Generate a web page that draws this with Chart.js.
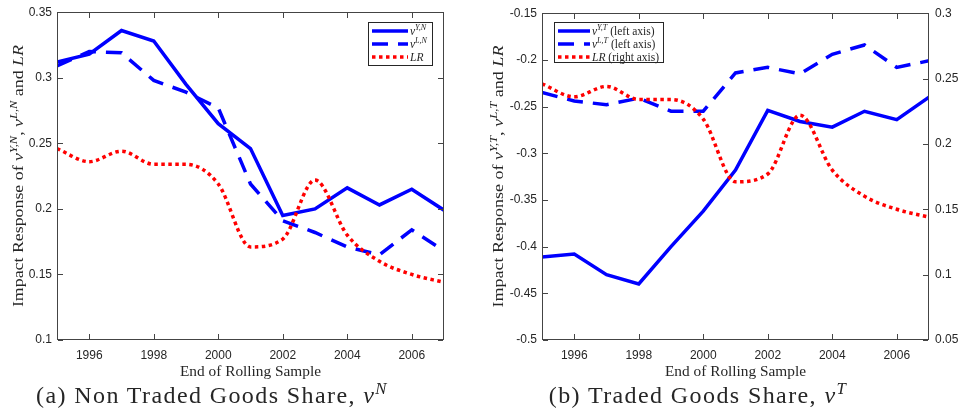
<!DOCTYPE html>
<html>
<head>
<meta charset="utf-8">
<script src="https://cdn.jsdelivr.net/npm/chart.js@4.4.1/dist/chart.umd.min.js"></script>
<style>
    body { margin: 0; background: #fff; width: 959px; height: 419px; overflow: hidden; position: relative; }
    .panel { position: absolute; top: 0; height: 380px; }
    #pa { left: 0; width: 480px; }
    #pb { left: 480px; width: 479px; }
    .cap { position: absolute; top: 382px; font-family: 'Liberation Serif', serif; font-size: 24px; color: #262626;
           letter-spacing: 1.4px; white-space: nowrap; transform: translateX(-50%); }
    .cap sup { font-size: 70%; line-height: 0; }
</style>
</head>
<body>
<div class="panel" id="pa"><canvas id="chartA"></canvas></div>
<div class="panel" id="pb"><canvas id="chartB"></canvas></div>
<div class="cap" style="left:212px">(a) Non Traded Goods Share, <i>ν</i><sup><i>N</i></sup></div>
<div class="cap" style="left:698px">(b) Traded Goods Share, <i>ν</i><sup><i>T</i></sup></div>
<script>
// 数据（滚动样本结束年份）
const years = [1995, 1996, 1997, 1998, 1999, 2000, 2001, 2002, 2003, 2004, 2005, 2006, 2007];
const xTicks = [1996, 1998, 2000, 2002, 2004, 2006];

// (a) 非贸易品
const nuYN = [0.312, 0.318, 0.336, 0.328, 0.295, 0.265, 0.246, 0.195, 0.200, 0.216, 0.203, 0.215, 0.199];
const nuLN = [0.309, 0.320, 0.319, 0.298, 0.289, 0.277, 0.219, 0.191, 0.182, 0.171, 0.165, 0.184, 0.168];
const lr   = [0.246, 0.236, 0.244, 0.234, 0.234, 0.219, 0.171, 0.177, 0.222, 0.180, 0.160, 0.150, 0.144];

// (b) 贸易品
const nuYT = [-0.411, -0.408, -0.430, -0.440, -0.400, -0.362, -0.318, -0.254, -0.266, -0.272, -0.255, -0.264, -0.240];
const nuLT = [-0.235, -0.244, -0.248, -0.241, -0.255, -0.255, -0.214, -0.208, -0.215, -0.194, -0.184, -0.208, -0.201];

const AXIS = '#262626';
const FRAME = '#444444';
const SERIF = "'Liberation Serif', serif";
const SANS = "'Liberation Sans', Arial, sans-serif";

const styles = {
    solid:  { borderColor: '#0000ff', borderWidth: 3.5, borderDash: [] },
    dashed: { borderColor: '#0000ff', borderWidth: 3.5, borderDash: [16, 10] },
    dotted: { borderColor: '#ff0000', borderWidth: 3.5, borderDash: [3.5, 3.5] }
};

function pts(vals) {
    return years.map((y, i) => ({ x: y, y: vals[i] }));
}

function fmt(v) {
    return String(Number(v.toFixed(2)));
}

// 富文本：[文字, 类型] n=正体, i=斜体, s=上标
function setFont(ctx, size, italic) {
    ctx.font = (italic ? 'italic ' : '') + size + 'px ' + SERIF;
}
function richWidth(ctx, parts, size) {
    let w = 0;
    for (const [t, k] of parts) {
        setFont(ctx, k === 's' ? size * 0.7 : size, k !== 'n');
        w += ctx.measureText(t).width;
    }
    return w;
}
function drawRich(ctx, parts, x, y, size) {
    for (const [t, k] of parts) {
        setFont(ctx, k === 's' ? size * 0.7 : size, k !== 'n');
        ctx.fillText(t, x, k === 's' ? y - size * 0.4 : y);
        x += ctx.measureText(t).width;
    }
}
// 居中绘制并横向拉伸到目标宽度（模拟原图较宽的字体）
function drawRichCentered(ctx, parts, cx, y, size, target) {
    const w = richWidth(ctx, parts, size);
    const k = target ? target / w : 1;
    ctx.save();
    ctx.translate(cx, y);
    ctx.scale(k, 1);
    drawRich(ctx, parts, -w / 2, 0, size);
    ctx.restore();
}

// 边框、内向刻度、坐标轴标题、图例
const decor = {
    id: 'decor',
    afterDraw(chart, args, opts) {
        const { ctx, chartArea: a, scales } = chart;
        ctx.save();
        ctx.setLineDash([]);
        ctx.fillStyle = FRAME;
        const L = Math.round(a.left), R = Math.round(a.right) - 1;
        const T = Math.round(a.top), B = Math.round(a.bottom) - 1;
        ctx.fillRect(L, T, R - L + 1, 1);
        ctx.fillRect(L, B, R - L + 1, 1);
        ctx.fillRect(L, T, 1, B - T + 1);
        ctx.fillRect(R, T, 1, B - T + 1);
        const tl = 5;
        scales.x.ticks.forEach(t => {
            const px = Math.round(scales.x.getPixelForValue(t.value));
            ctx.fillRect(px, B - tl, 1, tl);
            ctx.fillRect(px, T + 1, 1, tl);
        });
        scales.y.ticks.forEach(t => {
            const py = Math.round(scales.y.getPixelForValue(t.value));
            ctx.fillRect(L + 1, py, tl, 1);
            if (!scales.y2) ctx.fillRect(R - tl, py, tl, 1);
        });
        if (scales.y2) {
            scales.y2.ticks.forEach(t => {
                const py = Math.round(scales.y2.getPixelForValue(t.value));
                ctx.fillRect(R - tl, py, tl, 1);
            });
        }

        ctx.fillStyle = AXIS;
        // x 轴标题
        drawRichCentered(ctx, opts.xTitle, (a.left + a.right) / 2, opts.xTitleY, 15, 141);

        // y 轴标题
        ctx.save();
        ctx.translate(opts.yTitleX, (a.top + a.bottom) / 2);
        ctx.rotate(-Math.PI / 2);
        drawRichCentered(ctx, opts.yTitle, 0, 0, 15.5, 262);
        ctx.restore();

        // 图例
        const lg = opts.legend;
        ctx.fillStyle = '#fff';
        ctx.fillRect(lg.x, lg.y, lg.w, lg.h);
        ctx.fillStyle = AXIS;
        ctx.fillRect(lg.x, lg.y, lg.w, 1);
        ctx.fillRect(lg.x, lg.y + lg.h - 1, lg.w, 1);
        ctx.fillRect(lg.x, lg.y, 1, lg.h);
        ctx.fillRect(lg.x + lg.w - 1, lg.y, 1, lg.h);
        lg.rows.forEach((row, i) => {
            const cy = lg.y + 9 + i * 13;
            const st = styles[row.style];
            ctx.strokeStyle = st.borderColor;
            ctx.lineWidth = st.borderWidth;
            ctx.lineCap = 'butt';
            ctx.setLineDash(st.borderDash);
            ctx.beginPath();
            ctx.moveTo(lg.x + 4, cy);
            ctx.lineTo(lg.x + 4 + lg.sample, cy);
            ctx.stroke();
            ctx.setLineDash([]);
            ctx.fillStyle = AXIS;
            drawRich(ctx, row.parts, lg.x + 6 + lg.sample, cy + 4, 11.5);
        });
        ctx.restore();
    }
};

const noGrid = { display: false, drawTicks: false };

function baseOptions(yMin, yMax, padRight) {
    return {
        responsive: true,
        maintainAspectRatio: false,
        animation: false,
        layout: { padding: { left: 0, right: padRight, top: 12, bottom: 0 } },
        plugins: { legend: { display: false }, tooltip: { enabled: false } },
        elements: { point: { radius: 0 }, line: { borderCapStyle: 'butt', borderJoinStyle: 'miter' } },
        scales: {
            x: {
                type: 'linear', min: 1995, max: 2007,
                afterBuildTicks: s => { s.ticks = xTicks.map(v => ({ value: v })); },
                afterFit: s => { s.height = 40; },
                grid: noGrid,
                border: { display: false },
                ticks: { color: AXIS, font: { family: SANS, size: 12 }, padding: 8, maxRotation: 0,
                         callback: v => String(v) }
            },
            y: {
                min: yMin, max: yMax,
                ticks: { stepSize: 0.05, color: AXIS, font: { family: SANS, size: 12 }, padding: 5, callback: fmt },
                grid: noGrid,
                border: { display: false }
            }
        }
    };
}

// (a)
const optA = baseOptions(0.1, 0.35, 36);
optA.scales.y.afterFit = s => { s.width = 57; };
optA.plugins.decor = {
    xTitle: [['End of Rolling Sample', 'n']],
    xTitleY: 376,
    yTitleX: 23,
    yTitle: [['Impact Response of ', 'n'], ['ν', 'i'], ['Y,N', 's'], [', ', 'n'], ['ν', 'i'], ['L,N', 's'],
             [' and ', 'n'], ['LR', 'i']],
    legend: {
        x: 368, y: 22, w: 65, h: 44, sample: 36,
        rows: [
            { style: 'solid', parts: [['ν', 'i'], ['Y,N', 's']] },
            { style: 'dashed', parts: [['ν', 'i'], ['L,N', 's']] },
            { style: 'dotted', parts: [['LR', 'i']] }
        ]
    }
};

new Chart(document.getElementById('chartA'), {
    type: 'line',
    data: {
        datasets: [
            { data: pts(nuYN), ...styles.solid, order: 3 },
            { data: pts(nuLN), ...styles.dashed, order: 2 },
            { data: pts(lr), ...styles.dotted, cubicInterpolationMode: 'monotone', order: 1 }
        ]
    },
    options: optA,
    plugins: [decor]
});

// (b)
const optB = baseOptions(-0.5, -0.15, 0);
optB.scales.y.afterFit = s => { s.width = 62; };
optB.scales.y2 = {
    position: 'right', min: 0.05, max: 0.3,
    afterFit: s => { s.width = 30; },
    ticks: { stepSize: 0.05, color: AXIS, font: { family: SANS, size: 12 }, padding: 6, callback: fmt },
    grid: noGrid,
    border: { display: false }
};
optB.plugins.decor = {
    xTitle: [['End of Rolling Sample', 'n']],
    xTitleY: 376,
    yTitleX: 23,
    yTitle: [['Impact Response of ', 'n'], ['ν', 'i'], ['Y,T', 's'], [', ', 'n'], ['ν', 'i'], ['L,T', 's'],
             [' and ', 'n'], ['LR', 'i']],
    legend: {
        x: 74, y: 22, w: 110, h: 41, sample: 32,
        rows: [
            { style: 'solid', parts: [['ν', 'i'], ['Y,T', 's'], [' (left axis)', 'n']] },
            { style: 'dashed', parts: [['ν', 'i'], ['L,T', 's'], [' (left axis)', 'n']] },
            { style: 'dotted', parts: [['LR', 'i'], [' (right axis)', 'n']] }
        ]
    }
};

new Chart(document.getElementById('chartB'), {
    type: 'line',
    data: {
        datasets: [
            { data: pts(nuYT), ...styles.solid, yAxisID: 'y', order: 3 },
            { data: pts(nuLT), ...styles.dashed, yAxisID: 'y', order: 2 },
            { data: pts(lr), ...styles.dotted, yAxisID: 'y2', cubicInterpolationMode: 'monotone', order: 1 }
        ]
    },
    options: optB,
    plugins: [decor]
});
</script>
</body>
</html>
